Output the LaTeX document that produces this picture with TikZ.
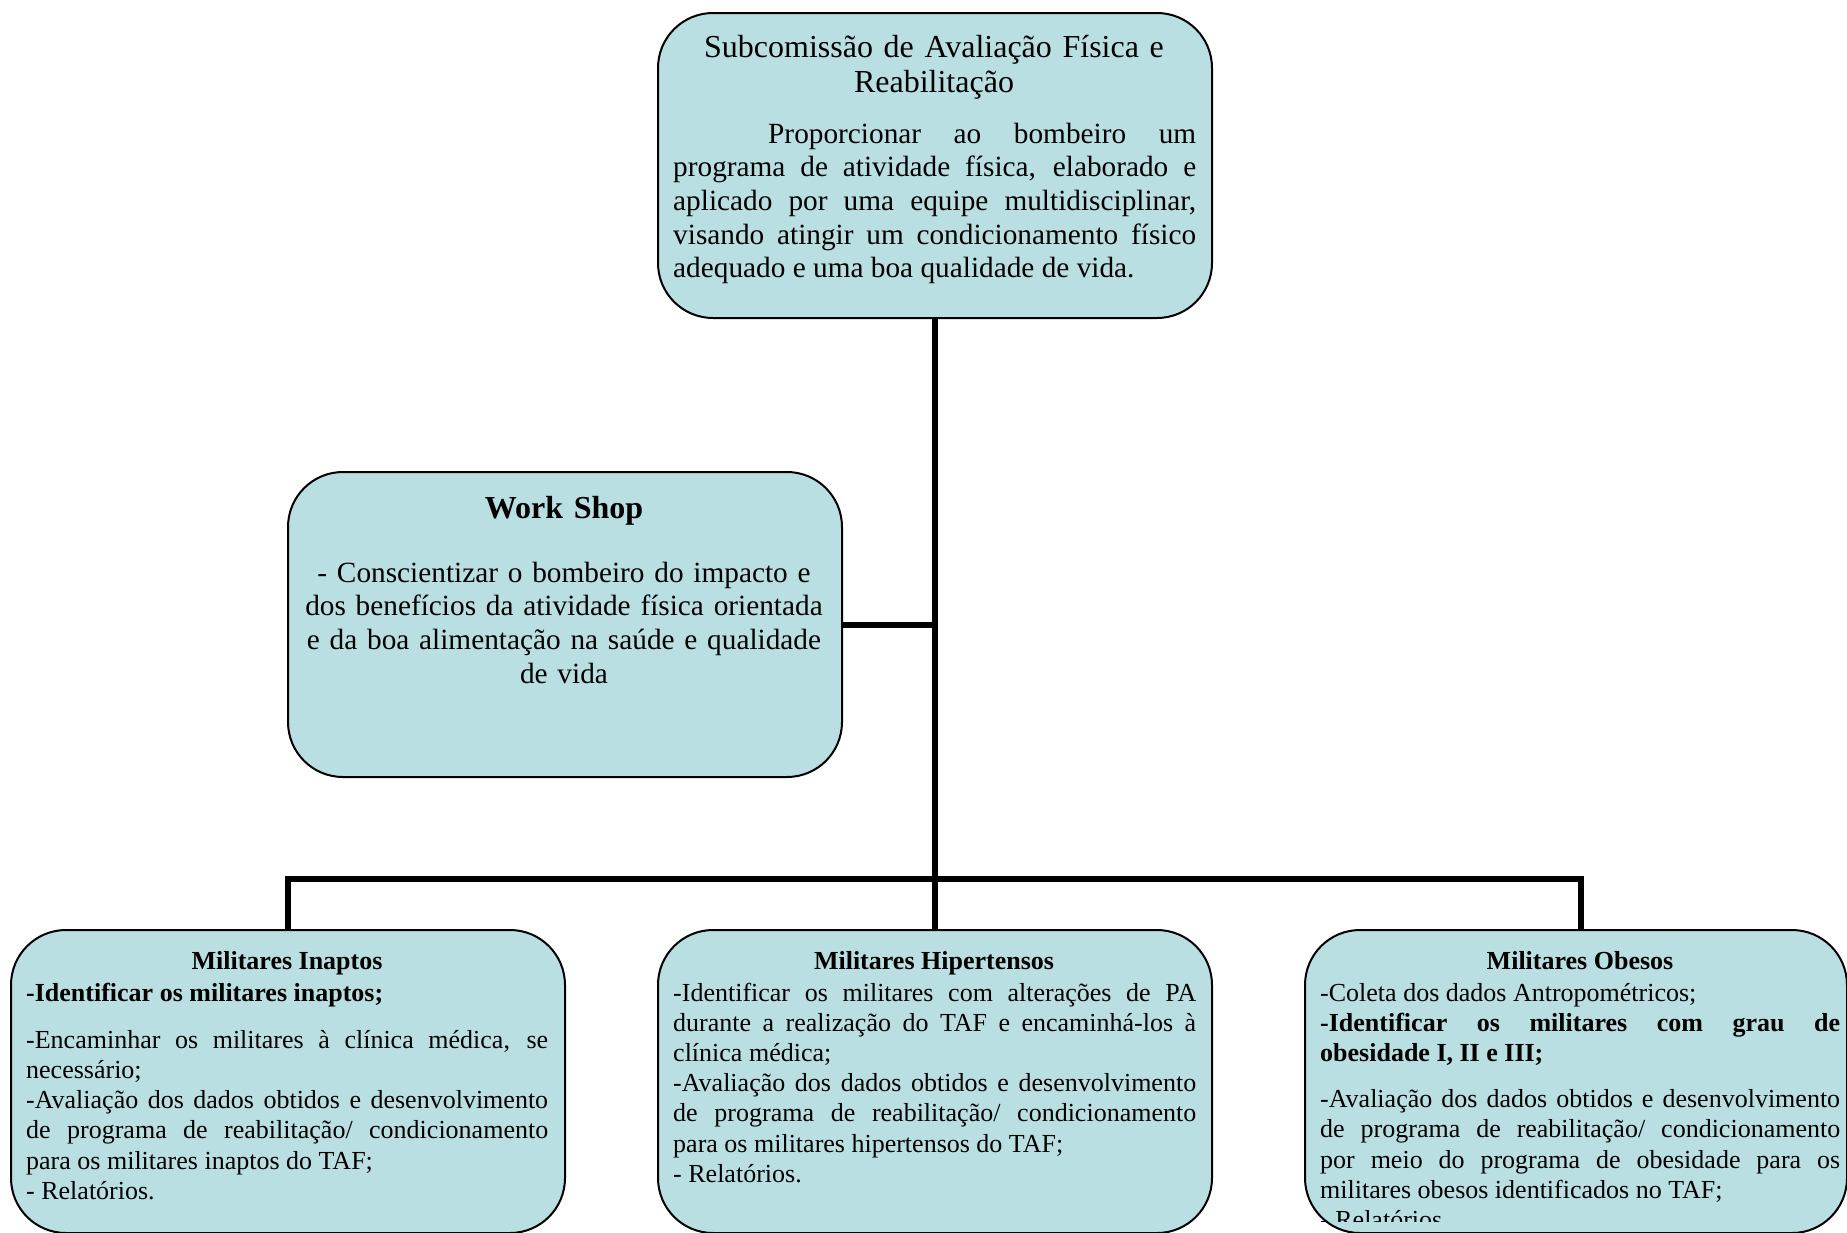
\documentclass[tikz,border=0pt]{standalone}
\usepackage{fontspec}
\setmainfont{Liberation Serif}
\definecolor{boxfill}{RGB}{185,223,227}
\setlength{\parindent}{0pt}
\exhyphenpenalty=10000
\hyphenpenalty=10000
\tolerance=9999
\begin{document}
\begin{tikzpicture}[x=1pt,y=-1pt,
  card/.style={draw=black, line width=2pt, fill=boxfill, rounded corners=55pt, anchor=north west, inner sep=0pt},
  link/.style={draw=black, line width=6pt},
  bigtitle/.style={anchor=base, inner sep=0pt, text width=523pt, align=center, font=\fontsize{32}{35}\selectfont},
  toptext/.style={anchor=base west, inner sep=0pt, text width=523pt, align=justify, font=\fontsize{29.3}{33.7}\selectfont},
  wstext/.style={anchor=base, inner sep=0pt, text width=520pt, align=center, font=\fontsize{29.3}{33.8}\selectfont},
  subtitle/.style={anchor=base, inner sep=0pt, font=\fontsize{26}{30.2}\selectfont\bfseries},
  subtext/.style={anchor=base west, inner sep=0pt, align=justify, font=\fontsize{26}{30.2}\selectfont}]
\useasboundingbox (0,0) rectangle (1847,1232);

% boxes
\node[card, minimum width=554pt, minimum height=305pt] (top) at (657,12) {};
\node[card, minimum width=554pt, minimum height=305pt] (ws) at (287,471) {};
\node[card, minimum width=554pt, minimum height=303pt] (inap) at (10,929) {};
\node[card, minimum width=554pt, minimum height=303pt] (hiper) at (657,929) {};
\node[card, minimum width=542pt, minimum height=303pt] (obes) at (1304,929) {};

% connectors
\coordinate (bar) at (934,879);
\coordinate (obdrop) at (1581,879);
\draw[link] (top.south) -- (top.south |- bar);
\draw[link] (ws.east) -- (ws.east -| top.south);
\draw[link] (inap.north) -- (inap.north |- bar) -- (obdrop) -- (obdrop |- obes.north);
\draw[link] (hiper.north) -- (hiper.north |- bar);

% top box text
\node[bigtitle] (topTitle) at (934,57) {Subcomissão de Avaliação Física e\\Reabilitação};
\node[toptext] (topBody) at (673,143) {\hspace*{95pt}Proporcionar ao bombeiro um\linebreak programa de atividade física, elaborado e\linebreak aplicado por uma equipe multidisciplinar,\linebreak visando atingir um condicionamento físico\linebreak adequado e uma boa qualidade de vida.};

% work shop text
\node[bigtitle, font=\fontsize{32}{35}\selectfont\bfseries] (wsTitle) at (564,518) {Work Shop};
\node[wstext] (wsBody) at (564,582) {- Conscientizar o bombeiro do impacto e\\dos benefícios da atividade física orientada\\e da boa alimentação na saúde e qualidade\\de vida};

% inaptos
\node[subtitle] (inapTitle) at (287,969) {Militares Inaptos};
\node[subtext, text width=522pt] (inapBody) at (26,1001) {\textbf{-Identificar os militares inaptos;}\par\vspace{17pt}-Encaminhar os militares à clínica médica, se\linebreak necessário;\par -Avaliação dos dados obtidos e desenvolvimento\linebreak de programa de reabilitação/ condicionamento\linebreak para os militares inaptos do TAF;\par - Relatórios.};

% hipertensos
\node[subtitle] (hiperTitle) at (934,969) {Militares Hipertensos};
\node[subtext, text width=523pt] (hiperBody) at (673,1001) {-Identificar os militares com alterações de PA\linebreak durante a realização do TAF e encaminhá-los à\linebreak clínica médica;\par -Avaliação dos dados obtidos e desenvolvimento\linebreak de programa de reabilitação/ condicionamento\linebreak para os militares hipertensos do TAF;\par - Relatórios.};

% obesos
\node[subtitle] (obesTitle) at (1580,969) {Militares Obesos};
\begin{scope}
\clip (1304,929) rectangle (1846,1221);
\node[subtext, text width=520pt] (obesBody) at (1320,1001) {-Coleta dos dados Antropométricos;\par \textbf{-Identificar os militares com grau de\linebreak obesidade I, II e III;}\par\vspace{16pt}-Avaliação dos dados obtidos e desenvolvimento\linebreak de programa de reabilitação/ condicionamento\linebreak por meio do programa de obesidade para os\linebreak militares obesos identificados no TAF;\par - Relatórios.};
\end{scope}
\end{tikzpicture}
\end{document}
